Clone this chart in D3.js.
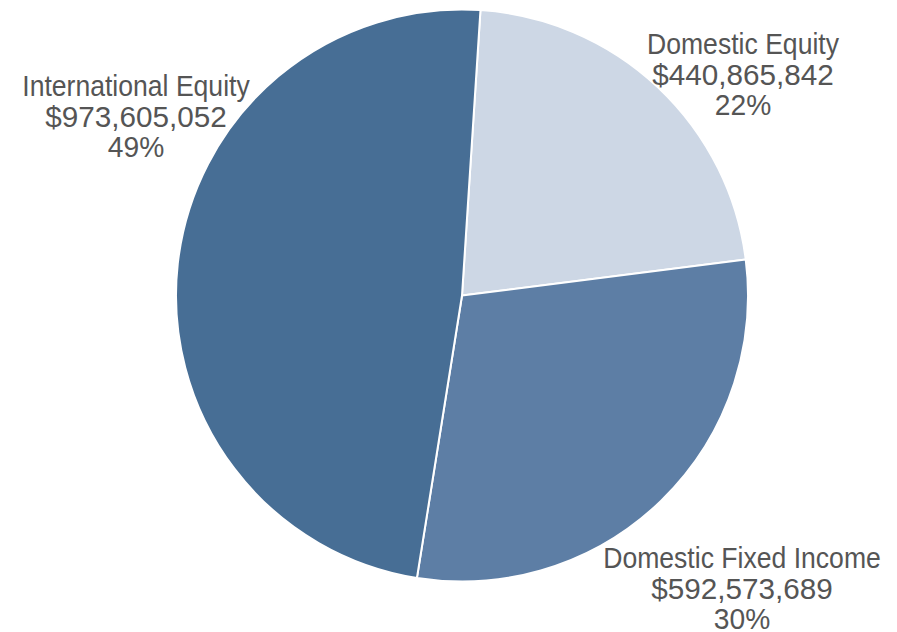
<!DOCTYPE html>
<html>
<head>
<meta charset="utf-8">
<script src="https://cdn.jsdelivr.net/npm/d3@7"></script>
<style>
  body { margin: 0; background: #fff; }
  svg text { font-family: "Liberation Sans", Arial, sans-serif; fill: #555; }
</style>
</head>
<body>
<div id="chart"></div>
<script>
var categories = ['Domestic Equity', 'Domestic Fixed Income', 'International Equity'];
var amounts = [440865842, 592573689, 973605052];
var percentLabels = ['22%', '30%', '49%'];
var colors = ['#cdd7e5', '#5d7ea5', '#476e95'];

// label anchors (center x, first baseline y)
var labelPos = [[743, 54], [742, 568], [136, 96]];

var size = { w: 897, h: 632, cx: 462, cy: 295.5, r: 286, lineH: 30.7 };
// horizontal squeeze per label line (name, amount, percent) to mimic a condensed face
var squeeze = [0.886, 0.99, 0.94];

var svg = d3.select('#chart').append('svg')
  .attr('width', size.w)
  .attr('height', size.h);

var rows = categories.map(function(c, i) {
  return { name: c, value: amounts[i], pct: percentLabels[i], color: colors[i] };
});

var startAngle = 3.7 * Math.PI / 180;
var pie = d3.pie()
  .value(function(d) { return d.value; })
  .sort(null)
  .startAngle(startAngle)
  .endAngle(startAngle + 2 * Math.PI);

var arc = d3.arc().innerRadius(0).outerRadius(size.r);

var g = svg.append('g')
  .attr('transform', 'translate(' + [size.cx, size.cy].join(',') + ')');

g.selectAll('path').data(pie(rows)).enter().append('path')
  .attr('d', arc)
  .attr('fill', function(d) { return d.data.color; })
  .attr('stroke', '#fff')
  .attr('stroke-width', 2)
  .attr('stroke-linejoin', 'round');

var fmt = d3.format(',');
var labels = svg.selectAll('g.label').data(rows).enter().append('g')
  .attr('class', 'label')
  .attr('transform', function(d, i) {
    return 'translate(' + [labelPos[i][0], labelPos[i][1]].join(',') + ')';
  });

labels.each(function(d) {
  var t = d3.select(this);
  var lines = [d.name, '$' + fmt(d.value), d.pct];
  lines.forEach(function(line, j) {
    t.append('text')
      .attr('text-anchor', 'middle')
      .attr('font-size', 30)
      .attr('transform', 'translate(0,' + j * size.lineH + ') scale(' + squeeze[j] + ',1)')
      .text(line);
  });
});
</script>
</body>
</html>
